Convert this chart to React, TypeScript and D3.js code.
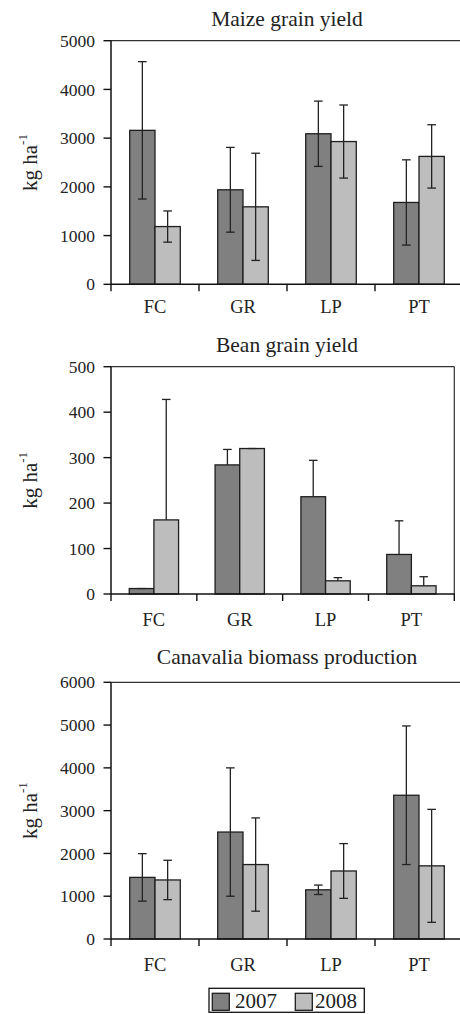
import React from "react";
import * as d3 from "d3";

// categories and series
const categories = ["FC", "GR", "LP", "PT"];
const years = ["2007", "2008"];

const maize2007 = [3160, 1940, 3090, 1680];
const maize2007Err = [1410, 870, 670, 875];
const maize2008 = [1185, 1590, 2930, 2625];
const maize2008Err = [320, 1100, 750, 650];

const bean2007 = [12, 284, 214, 87];
const bean2007Err = [0, 34, 80, 74];
const bean2008 = [163, 320, 29, 18];
const bean2008Err = [265, 0, 7, 20];

const canavalia2007 = [1440, 2500, 1150, 3360];
const canavalia2007Err = [555, 1500, 110, 1620];
const canavalia2008 = [1380, 1740, 1590, 1710];
const canavalia2008Err = [460, 1090, 640, 1320];

const maizeTicks = [0, 1000, 2000, 3000, 4000, 5000];
const beanTicks = [0, 100, 200, 300, 400, 500];
const canavaliaTicks = [0, 1000, 2000, 3000, 4000, 5000, 6000];

const FONT = "'Liberation Serif', 'Times New Roman', serif";
const DARK = "#808080";
const LIGHT = "#bdbdbd";
const colors = [DARK, LIGHT];

type PanelProps = {
  title: string;
  ticks: number[];
  series: number[][];
  errors: number[][];
  plusOnly?: boolean;
  top: number;
  bottom: number;
  right: number;
  titleY: number;
  labelY: number;
};

const LEFT = 111;

const Panel = ({ title, ticks, series, errors, plusOnly, top, bottom, right, titleY, labelY }: PanelProps) => {
  const y = d3
    .scaleLinear()
    .domain([0, ticks[ticks.length - 1]])
    .range([bottom, top]);

  const x0 = d3.scaleBand().domain(categories).range([LEFT, right]).padding(0);
  const x1 = d3
    .scaleBand()
    .domain(years)
    .range([0, x0.bandwidth()])
    .paddingInner(0)
    .paddingOuter(0.74);

  const bw = x1.bandwidth();
  const cap = 4.3;
  const midY = (top + bottom) / 2;
  const boundaries = categories.map((c) => x0(c) as number).concat([right]);

  return (
    <g>
      <text
        x={(LEFT + 463) / 2}
        y={titleY}
        textAnchor="middle"
        fontSize={21.5}
        fontFamily={FONT}
        fill="#222"
      >
        {title}
      </text>

      {/* y label */}
      <text
        transform={`translate(37, ${midY}) rotate(-90)`}
        textAnchor="middle"
        fontSize={21}
        fontFamily={FONT}
        fill="#222"
      >
        kg ha
        <tspan fontSize={13} dy={-10}>
          -1
        </tspan>
      </text>

      {/* bars */}
      {series.map((vals, si) =>
        vals.map((v, ci) => {
          const bx = (x0(categories[ci]) as number) + (x1(years[si]) as number);
          return (
            <rect
              key={`b${si}-${ci}`}
              x={bx}
              y={y(v)}
              width={bw}
              height={y(0) - y(v)}
              fill={colors[si]}
              stroke="#1e1e1e"
              strokeWidth={1.3}
            />
          );
        })
      )}

      {/* error bars */}
      {series.map((vals, si) =>
        vals.map((v, ci) => {
          const cx = (x0(categories[ci]) as number) + (x1(years[si]) as number) + bw / 2;
          const e = errors[si][ci];
          const hi = y(v + e);
          const lo = plusOnly ? y(v) : y(Math.max(0, v - e));
          return (
            <g key={`e${si}-${ci}`} stroke="#222" strokeWidth={1.3}>
              <line x1={cx} x2={cx} y1={hi} y2={lo} />
              <line x1={cx - cap} x2={cx + cap} y1={hi} y2={hi} />
              {!plusOnly && <line x1={cx - cap} x2={cx + cap} y1={lo} y2={lo} />}
            </g>
          );
        })
      )}

      {/* frame */}
      <line x1={LEFT} x2={right} y1={top} y2={top} stroke="#333" strokeWidth={1.2} />
      <line x1={right} x2={right} y1={top} y2={bottom} stroke="#333" strokeWidth={1.2} />

      {/* y axis */}
      <line x1={LEFT} x2={LEFT} y1={top} y2={bottom} stroke="#111" strokeWidth={1.5} />
      {ticks.map((t) => (
        <g key={`t${t}`}>
          <line x1={LEFT - 7.5} x2={LEFT} y1={y(t)} y2={y(t)} stroke="#111" strokeWidth={1.4} />
          <text
            x={LEFT - 16}
            y={y(t)}
            dy="0.35em"
            textAnchor="end"
            fontSize={17.5}
            fontFamily={FONT}
            fill="#222"
          >
            {t}
          </text>
        </g>
      ))}

      {/* x axis */}
      <line x1={LEFT} x2={right} y1={bottom} y2={bottom} stroke="#111" strokeWidth={1.5} />
      {boundaries.map((bx, i) => (
        <line key={`xt${i}`} x1={bx} x2={bx} y1={bottom} y2={bottom + 7} stroke="#111" strokeWidth={1.4} />
      ))}
      {categories.map((c) => (
        <text
          key={c}
          x={(x0(c) as number) + x0.bandwidth() / 2}
          y={labelY}
          textAnchor="middle"
          fontSize={18.5}
          fontFamily={FONT}
          fill="#222"
        >
          {c}
        </text>
      ))}
    </g>
  );
};

const Legend = () => {
  const items = [
    { label: "2007", sx: 212.3, tx: 235 },
    { label: "2008", sx: 295.3, tx: 315 },
  ];
  return (
    <g>
      <rect x={209} y={988.3} width={155.3} height={24} fill="#fff" stroke="#111" strokeWidth={1.3} />
      {items.map((it, i) => (
        <g key={it.label}>
          <rect x={it.sx} y={993.3} width={17} height={17} fill={colors[i]} stroke="#1e1e1e" strokeWidth={1.3} />
          <text x={it.tx} y={1008.3} fontSize={21} fontFamily={FONT} fill="#222">
            {it.label}
          </text>
        </g>
      ))}
    </g>
  );
};

export default function App() {
  return (
    <svg
      width={460}
      height={1014}
      style={{ position: "absolute", left: 0, top: 0, background: "#fff" }}
    >
      <Panel
        title="Maize grain yield"
        ticks={maizeTicks}
        series={[maize2007, maize2008]}
        errors={[maize2007Err, maize2008Err]}
        top={40.7}
        bottom={284.3}
        right={463}
        titleY={25.7}
        labelY={313.3}
      />
      <Panel
        title="Bean grain yield"
        ticks={beanTicks}
        series={[bean2007, bean2008]}
        errors={[bean2007Err, bean2008Err]}
        plusOnly
        top={366.7}
        bottom={594}
        right={454.3}
        titleY={351.7}
        labelY={626}
      />
      <Panel
        title="Canavalia biomass production"
        ticks={canavaliaTicks}
        series={[canavalia2007, canavalia2008]}
        errors={[canavalia2007Err, canavalia2008Err]}
        top={682.3}
        bottom={939}
        right={463}
        titleY={664}
        labelY={971}
      />
      <Legend />
    </svg>
  );
}
